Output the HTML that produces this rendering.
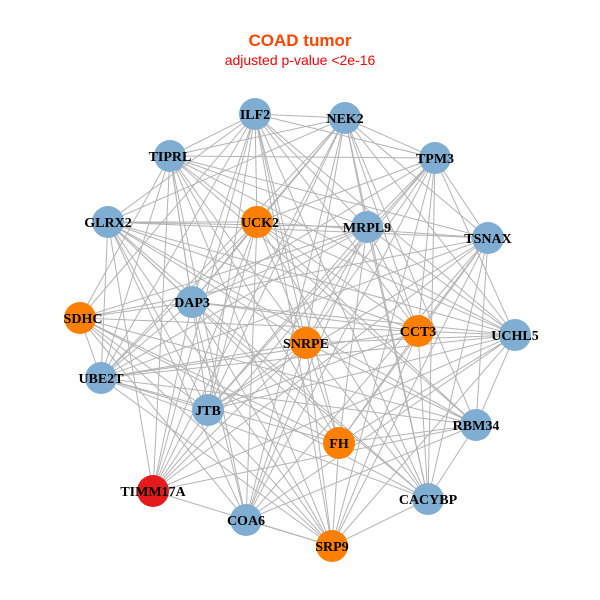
<!DOCTYPE html>
<html><head><meta charset="utf-8"><style>
html,body{margin:0;padding:0;background:#fff;width:600px;height:600px;overflow:hidden}
svg text{font-family:"Liberation Serif",serif;font-weight:bold;font-size:14px}
</style></head><body>
<svg id="g" width="600" height="600" xmlns="http://www.w3.org/2000/svg">
<text x="300" y="46" text-anchor="middle" style="font-family:'Liberation Sans',sans-serif;font-size:17px;font-weight:bold" fill="#ff4500">COAD tumor</text>
<text x="300" y="65" text-anchor="middle" style="font-family:'Liberation Sans',sans-serif;font-size:14px;font-weight:normal" fill="#ff0000">adjusted p-value &lt;2e-16</text>
<g id="edges" stroke="#b3b3b3" stroke-width="1"></g>
<g id="nodes"></g>
<g id="labels">
<text x="255" y="119" text-anchor="middle">ILF2</text>
<text x="345" y="123" text-anchor="middle">NEK2</text>
<text x="170" y="161" text-anchor="middle">TIPRL</text>
<text x="435" y="163" text-anchor="middle">TPM3</text>
<text x="108" y="227" text-anchor="middle">GLRX2</text>
<text x="260" y="227" text-anchor="middle">UCK2</text>
<text x="367" y="232" text-anchor="middle">MRPL9</text>
<text x="488" y="243" text-anchor="middle">TSNAX</text>
<text x="83" y="323" text-anchor="middle">SDHC</text>
<text x="192" y="307" text-anchor="middle">DAP3</text>
<text x="306" y="348" text-anchor="middle">SNRPE</text>
<text x="418" y="336" text-anchor="middle">CCT3</text>
<text x="515" y="340" text-anchor="middle">UCHL5</text>
<text x="101" y="383" text-anchor="middle">UBE2T</text>
<text x="208" y="415" text-anchor="middle">JTB</text>
<text x="339" y="448" text-anchor="middle">FH</text>
<text x="476" y="430" text-anchor="middle">RBM34</text>
<text x="153" y="496" text-anchor="middle">TIMM17A</text>
<text x="428" y="504" text-anchor="middle">CACYBP</text>
<text x="246" y="525" text-anchor="middle">COA6</text>
<text x="332" y="551" text-anchor="middle">SRP9</text>
</g>
</svg>
<script>
var B="#80aed2",O="#ff7f00",R="#e41a1c";
var n=[[255,114,B],[345,118,B],[170,156,B],[435,158,B],[108,222,B],[257,222,O],[367,227,B],[488,238,B],[80,318,O],[192,302,B],[306,343,O],[418,331,O],[515,335,B],[101,378,B],[208,410,B],[339,443,O],[476,425,B],[153,491,R],[428,499,B],[246,520,B],[332,546,O]];
var NS="http://www.w3.org/2000/svg",e=document.getElementById("edges"),nd=document.getElementById("nodes");
var s=7;
for(var i=0;i<n.length;i++)for(var j=i+1;j<n.length;j++){s=(s*1103515245+12345)%2147483648;if((s>>8)%100<78){var l=document.createElementNS(NS,"line");l.setAttribute("x1",n[i][0]);l.setAttribute("y1",n[i][1]);l.setAttribute("x2",n[j][0]);l.setAttribute("y2",n[j][1]);e.appendChild(l);}}
n.forEach(function(p){var c=document.createElementNS(NS,"circle");c.setAttribute("cx",p[0]);c.setAttribute("cy",p[1]);c.setAttribute("r",16);c.setAttribute("fill",p[2]);nd.appendChild(c);});
</script>
</body></html>
